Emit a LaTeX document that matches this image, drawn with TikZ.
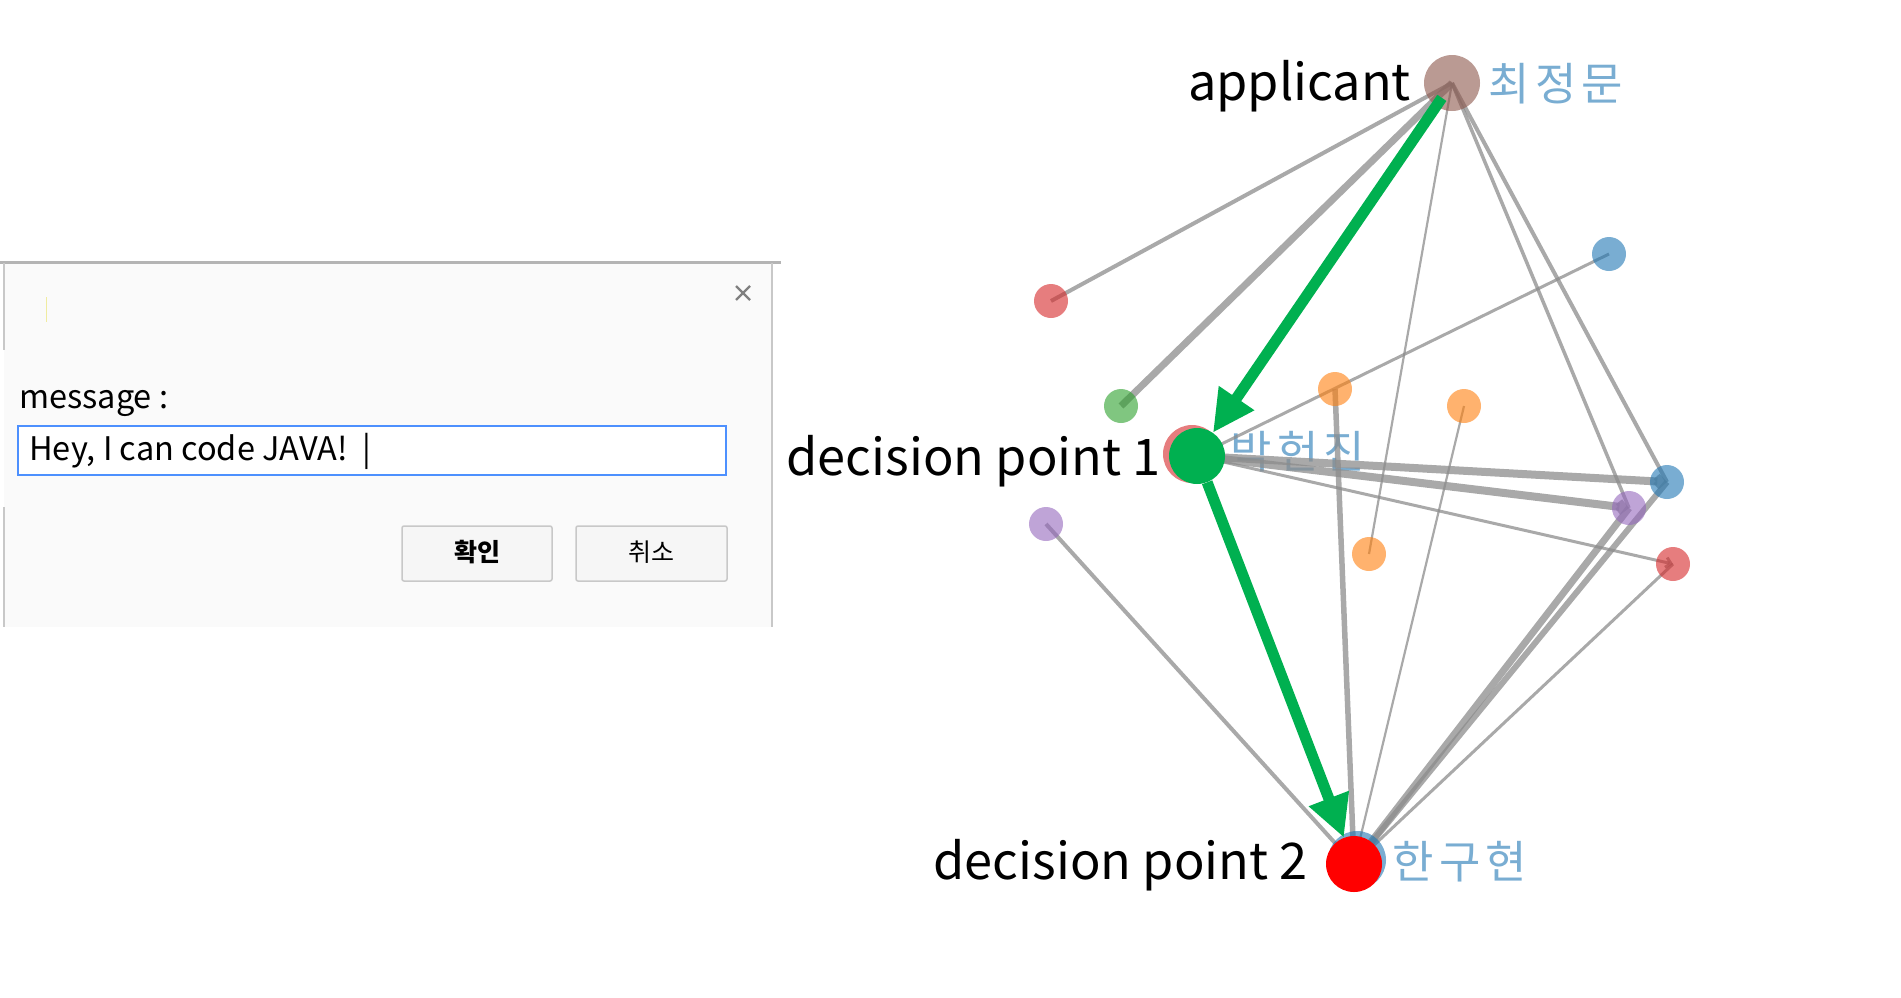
\documentclass[tikz,border=0pt]{standalone}
\usepackage{fontspec}
\setmainfont{Noto Sans CJK KR}
\newfontfamily\korfont[LetterSpace=12]{Noto Sans CJK KR}
\usetikzlibrary{arrows.meta,backgrounds}
\definecolor{d3blue}{HTML}{1F77B4}
\definecolor{d3orange}{HTML}{FF7F0E}
\definecolor{d3green}{HTML}{2CA02C}
\definecolor{d3red}{HTML}{D62728}
\definecolor{d3purple}{HTML}{9467BD}
\definecolor{d3brown}{HTML}{8C564B}
\definecolor{dpgreen}{HTML}{00B050}
\definecolor{korblue}{RGB}{121,173,210}
\definecolor{lnkgray}{RGB}{140,140,140}
\definecolor{dlgbg}{RGB}{250,250,250}
\definecolor{dlgline}{RGB}{180,180,180}
\definecolor{inblue}{RGB}{77,144,254}
\definecolor{btnfill}{RGB}{246,246,246}
\definecolor{btnline}{RGB}{200,200,200}
\begin{document}
\begin{tikzpicture}[x=1pt,y=-1pt,
  dot/.style={circle, inner sep=0pt, minimum size=34pt, draw=none, fill opacity=0.6},
  solid dot/.style={circle, inner sep=0pt, minimum size=56pt, draw=none},
  lnk/.style={draw=lnkgray, draw opacity=0.75, line width=#1},
  lnk/.default=2pt,
  big/.style={font=\fontsize{50.5}{56}\selectfont, inner sep=0pt, text=black},
  kor/.style={font=\korfont\fontsize{45}{50}\selectfont, inner sep=0pt, text=korblue},
  garrow/.style={draw=dpgreen, line width=11pt, -{Triangle[length=42pt,width=40pt]}},
  tip/.style={-{Straight Barb[length=5pt,width=10pt]}},
  btn/.style={draw=btnline, fill=btnfill, line width=1.5pt, rounded corners=2pt},
  dlgtext/.style={inner sep=0pt, text=black},
]
\useasboundingbox (0,0) rectangle (1901,997);

% ---------------- dialog ----------------
\fill[dlgbg] (4,262) rectangle (772,627);
\draw[line width=3pt, draw=dlgline] (0,262) -- (781,262);
\draw[line width=2pt, draw=btnline] (772,263) -- (772,627);
\draw[line width=2pt, draw=btnline] (4,263) -- (4,350);
\draw[line width=2pt, draw=btnline] (4,507) -- (4,627);
\draw[line width=1pt, draw={rgb,255:red,240;green,236;blue,160}] (46,297) -- (46,322);
\draw[line width=2.2pt, draw=gray] (736,286) -- (750,300);
\draw[line width=2.2pt, draw=gray] (750,286) -- (736,300);
\node[dlgtext, anchor=base west, font=\fontsize{32.5}{38}\selectfont] (msg) at (19,408) {message :};
\draw[line width=2.5pt, draw=inblue, fill=white] (18,426) rectangle (726,475);
\node[dlgtext, anchor=base west, font=\fontsize{32.5}{38}\selectfont] (inp) at (29,460) {Hey, I can code JAVA!\ \ |};
\draw[btn] (402,526) rectangle (552,581);
\draw[btn] (576,526) rectangle (727,581);
\node[dlgtext, font=\fontsize{25}{30}\selectfont\bfseries] (ok) at (477,552) {확인};
\node[dlgtext, font=\fontsize{25}{30}\selectfont] (cancel) at (651,552) {취소};

% ---------------- graph nodes ----------------
\node[dot, fill=d3brown, minimum size=56pt] (A) at (1452,83) {};
\node[dot, fill=d3red] (rUL) at (1051,301) {};
\node[dot, fill=d3green] (gS) at (1121,406) {};
\node[dot, fill=d3orange] (o1) at (1335,389) {};
\node[dot, fill=d3orange] (o2) at (1464,406) {};
\node[dot, fill=d3orange] (o3) at (1369,554) {};
\node[dot, fill=d3blue] (bUR) at (1609,254) {};
\node[dot, fill=d3blue] (bR) at (1667,482) {};
\node[dot, fill=d3purple] (pR) at (1629,508) {};
\node[dot, fill=d3red] (rR) at (1673,564) {};
\node[dot, fill=d3purple] (pL) at (1046,524) {};
\node[dot, fill=d3red, minimum size=58pt] (r1) at (1192,454) {};
\node[solid dot, fill=dpgreen] (dp1) at (1197,456) {};
\node[dot, fill=d3blue, minimum size=58pt] (b2) at (1357,860) {};
\node[solid dot, fill=red] (dp2) at (1354,864) {};

% ---------------- edges (behind nodes) ----------------
\begin{scope}[on background layer]
\node[kor, anchor=west] (k1) at (1230,452) {박헌진};
\draw[lnk=4pt] (A.center) -- (rUL.center);
\draw[lnk=7pt] (A.center) -- (gS.center);
\draw[lnk=2.2pt] (A.center) -- (o3.center);
\draw[lnk=4pt] (A.center) -- (bR.center);
\draw[lnk=3.5pt] (A.center) -- (pR.center);
\draw[lnk=3pt] (dp1.center) -- (bUR.center);
\draw[lnk=8pt, tip] (dp1.center) -- (bR.center);
\draw[lnk=8pt, tip] (dp1.center) -- (pR.center);
\draw[lnk=3pt, tip] (dp1.center) -- (rR.center);
\draw[lnk=5.5pt] (o1.center) -- (dp2.center);
\draw[lnk=2.2pt] (o2.center) -- (dp2.center);
\draw[lnk=4pt] (pL.center) -- (dp2.center);
\draw[lnk=6pt] (bR.center) -- (dp2.center);
\draw[lnk=7pt] (pR.center) -- (dp2.center);
\draw[lnk=3pt] (rR.center) -- (dp2.center);
\end{scope}

% ---------------- labels ----------------
\node[big, anchor=base east] (tA) at (1411,100) {applicant};
\node[big, anchor=base east] (t1) at (1161,475) {decision point 1};
\node[big, anchor=base east] (t2) at (1308,879) {decision point 2};
\node[kor, anchor=west] (kA) at (1488,84) {최정문};
\node[kor, anchor=west] (k2) at (1392,862) {한구현};

% ---------------- green arrows ----------------
\draw[garrow, shorten <=18pt] (A.center) -- (dp1);
\draw[garrow] (dp1) -- (dp2);
\end{tikzpicture}
\end{document}
